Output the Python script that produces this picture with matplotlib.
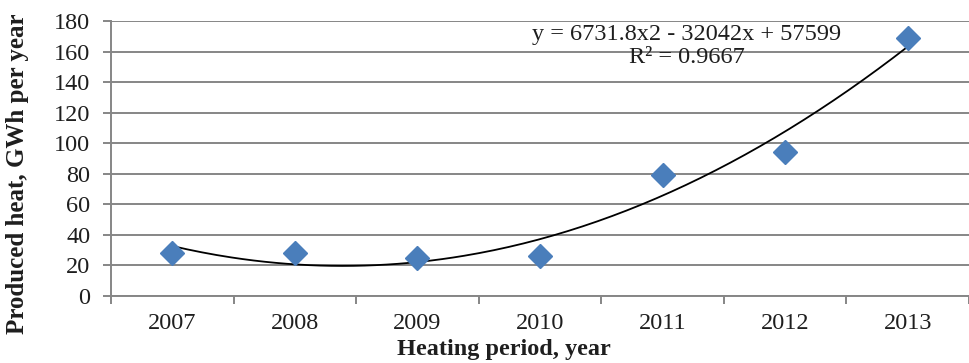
import numpy as np
import matplotlib
matplotlib.use("Agg")
import matplotlib.pyplot as plt

# data
years = ["2007", "2008", "2009", "2010", "2011", "2012", "2013"]
heat = [28, 28, 25, 26.5, 79, 94, 169]
y_ticks = [0, 20, 40, 60, 80, 100, 120, 140, 160, 180]
eq_text = "y = 6731.8x2 - 32042x + 57599\nR² = 0.9667"

plt.rcParams["font.family"] = ["Liberation Serif", "DejaVu Serif"]

fig = plt.figure(figsize=(9.69, 3.63), dpi=100)
ax = fig.add_axes([111 / 969, 1 - 296 / 363, 1 - 111 / 969, 275 / 363])

x = np.arange(len(years))
grid_col = "#868686"
txt_col = "#1e1e1e"
fs = 17.5

# polynomial trendline (order 2), as Excel draws it
coef = np.polyfit(x, heat, 2)
xs = np.linspace(x[0], x[-1], 200)
ax.plot(xs, np.polyval(coef, xs), color="black", lw=1.3, zorder=2)

ax.plot(x, heat, linestyle="none", marker="D", markersize=12,
        color="#4a7ebb", markeredgecolor="#4a7ebb", zorder=3)

ax.set_ylim(0, 180)
ax.set_yticks(y_ticks)
ax.set_xlim(-0.5, -0.5 + (969 - 111) / 123.5)

# category boundaries as ticks, labels at centres
ax.set_xticks(np.arange(len(years) + 1) - 0.5)
ax.set_xticklabels([])
ax.set_xticks(x, minor=True)
ax.set_xticklabels(years, minor=True)
ax.tick_params(axis="x", which="major", direction="out", length=6, width=1.4, color=grid_col)
ax.tick_params(axis="x", which="minor", length=0, pad=12, labelsize=fs, labelcolor=txt_col)
ax.tick_params(axis="y", direction="out", length=6, width=1.4, color=grid_col,
               labelsize=fs, labelcolor=txt_col, pad=9)

ax.grid(axis="y", color=grid_col, lw=1.4)
ax.set_axisbelow(True)
for s in ["top", "right"]:
    ax.spines[s].set_visible(False)
for s in ["left", "bottom"]:
    ax.spines[s].set_color(grid_col)
    ax.spines[s].set_linewidth(1.4)

fig.text(687 / 969, 1 - 46 / 363, eq_text, ha="center", va="center",
         fontsize=fs, color=txt_col, linespacing=1.1)

fig.text(504 / 969, 1 - 350 / 363, "Heating period, year", ha="center", va="center",
         fontsize=fs, fontweight="bold", color=txt_col)
fig.text(18 / 969, 1 - 174 / 363, "Produced heat, GWh per year", ha="center", va="center",
         rotation=90, fontsize=18, fontweight="bold", color=txt_col)

fig.savefig("out.png", dpi=100)
